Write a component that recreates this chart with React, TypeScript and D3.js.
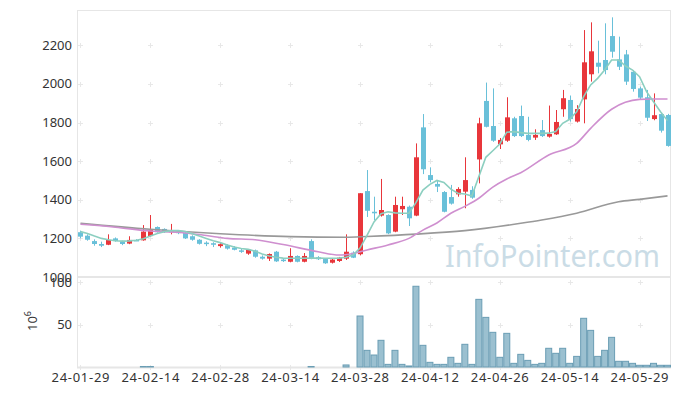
import React, { useEffect, useRef } from "react";
import * as d3 from "d3";

// trading days shown on the chart
const dates = [
  "24-01-29", "24-01-30", "24-01-31", "24-02-01", "24-02-02", "24-02-05", "24-02-06", "24-02-07", "24-02-08", "24-02-13",
  "24-02-14", "24-02-15", "24-02-16", "24-02-19", "24-02-20", "24-02-21", "24-02-22", "24-02-23", "24-02-26", "24-02-27",
  "24-02-28", "24-02-29", "24-03-04", "24-03-05", "24-03-06", "24-03-07", "24-03-08", "24-03-11", "24-03-12", "24-03-13",
  "24-03-14", "24-03-15", "24-03-18", "24-03-19", "24-03-20", "24-03-21", "24-03-22", "24-03-25", "24-03-26", "24-03-27",
  "24-03-28", "24-03-29", "24-04-01", "24-04-02", "24-04-03", "24-04-04", "24-04-05", "24-04-08", "24-04-09", "24-04-11",
  "24-04-12", "24-04-15", "24-04-16", "24-04-17", "24-04-18", "24-04-19", "24-04-22", "24-04-23", "24-04-24", "24-04-25",
  "24-04-26", "24-04-29", "24-04-30", "24-05-02", "24-05-03", "24-05-07", "24-05-08", "24-05-09", "24-05-10", "24-05-13",
  "24-05-14", "24-05-16", "24-05-17", "24-05-20", "24-05-21", "24-05-22", "24-05-23", "24-05-24", "24-05-27", "24-05-28",
  "24-05-29", "24-05-30", "24-05-31", "24-06-03", "24-06-04",
];

const opens = [
  1232, 1214, 1186, 1171, 1167, 1200, 1183, 1173, 1192, 1190,
  1212, 1259, 1249, 1232, 1237, 1228, 1211, 1193, 1178, 1175,
  1160, 1164, 1152, 1138, 1121, 1138, 1105, 1095, 1131, 1090,
  1079, 1109, 1079, 1186, 1102, 1093, 1074, 1083, 1095, 1126,
  1118, 1445, 1338, 1318, 1321, 1235, 1351, 1364, 1318, 1775,
  1528, 1482, 1440, 1414, 1428, 1442, 1451, 1609, 1912, 1782,
  1687, 1706, 1822, 1834, 1736, 1722, 1761, 1727, 1739, 1869,
  1917, 1805, 1920, 2050, 2110, 2124, 2248, 2127, 2153, 2063,
  1977, 1931, 1818, 1844, 1839,
];
const highs = [
  1240, 1221, 1195, 1183, 1221, 1205, 1188, 1211, 1196, 1269,
  1321, 1262, 1252, 1275, 1242, 1232, 1216, 1196, 1185, 1180,
  1175, 1170, 1160, 1150, 1145, 1142, 1112, 1122, 1135, 1095,
  1149, 1112, 1124, 1195, 1108, 1096, 1094, 1104, 1221, 1133,
  1434, 1554, 1416, 1508, 1325, 1416, 1416, 1370, 1692, 1844,
  1568, 1500, 1445, 1477, 1465, 1620, 1470, 1825, 2007, 1977,
  1720, 1931, 1830, 1888, 1830, 1765, 1813, 1888, 1865, 1969,
  1940, 1890, 2279, 2319, 2224, 2314, 2345, 2245, 2176, 2070,
  1986, 1969, 1951, 1850, 1845,
];
const lows = [
  1200, 1188, 1162, 1155, 1165, 1183, 1165, 1170, 1186, 1188,
  1210, 1230, 1228, 1221, 1222, 1197, 1188, 1168, 1160, 1155,
  1152, 1142, 1138, 1125, 1115, 1100, 1090, 1083, 1078, 1078,
  1076, 1076, 1076, 1092, 1088, 1068, 1070, 1078, 1088, 1098,
  1112, 1311, 1295, 1313, 1222, 1232, 1321, 1264, 1315, 1533,
  1490, 1440, 1335, 1375, 1416, 1356, 1405, 1485, 1775, 1700,
  1663, 1700, 1725, 1725, 1703, 1710, 1725, 1722, 1736, 1830,
  1805, 1800, 1796, 2012, 2055, 2050, 2136, 2072, 1995, 1960,
  1917, 1808, 1812, 1748, 1675,
];
const closes = [
  1209, 1193, 1171, 1162, 1192, 1186, 1171, 1192, 1189, 1235,
  1243, 1232, 1235, 1242, 1227, 1200, 1193, 1172, 1171, 1167,
  1170, 1147, 1141, 1131, 1141, 1105, 1095, 1119, 1081, 1084,
  1109, 1079, 1109, 1095, 1092, 1071, 1090, 1100, 1131, 1100,
  1434, 1343, 1330, 1347, 1226, 1373, 1368, 1304, 1620, 1558,
  1502, 1468, 1338, 1380, 1456, 1502, 1411, 1796, 1778, 1706,
  1710, 1827, 1730, 1730, 1710, 1736, 1730, 1741, 1803, 1926,
  1818, 1870, 2112, 2169, 2089, 2072, 2167, 2089, 2012, 1974,
  1929, 1825, 1838, 1758, 1679,
];

// volume in millions (0 = too small to see)
const volumes = [
  0, 0, 0, 0, 0, 0, 0, 0, 0, 0.6,
  0.6, 0, 0, 0, 0, 0, 0, 0, 0, 0,
  0, 0, 0, 0, 0, 0, 0, 0, 0, 0,
  0, 0, 0, 0.6, 0, 0, 0, 0, 2.4, 0,
  60, 19.6, 14.1, 31.4, 3.1, 19.6, 3.1, 1.2, 95, 25.5,
  5.5, 3.1, 3.1, 11.4, 4.3, 26.7, 3.1, 79.6, 58.4, 40.8,
  11.4, 39.6, 4.3, 14.9, 7.8, 3.1, 4.3, 22, 16.1, 22,
  4.3, 12.5, 57.3, 43.1, 12.5, 19.6, 34.9, 6.7, 6.7, 4.3,
  2, 2, 4.3, 2, 2,
];

// moving averages
const ma5 = [
  1235, 1225, 1212, 1200, 1193, 1188, 1186, 1187, 1190, 1198,
  1212, 1225, 1235, 1240, 1240, 1236, 1224, 1212, 1200, 1188,
  1178, 1166, 1155, 1148, 1143, 1133, 1119, 1109, 1102, 1098,
  1097, 1097, 1097, 1098, 1098, 1097, 1097, 1098, 1102, 1114,
  1150, 1215, 1285, 1328, 1338, 1332, 1330, 1330, 1385, 1450,
  1480, 1500, 1490, 1455, 1434, 1430, 1420, 1520, 1620, 1654,
  1689, 1750, 1753, 1748, 1744, 1744, 1744, 1745, 1753, 1796,
  1817, 1856, 1934, 1995, 2029, 2072, 2124, 2124, 2093, 2072,
  2038, 1960, 1908, 1856, 1810,
];
const ma20: [number, number][] = [
  [0, 1273], [5, 1258], [10, 1238], [14, 1232], [18, 1215], [21, 1200], [25, 1193],
  [29, 1168], [34, 1131], [37, 1114], [39, 1122], [41, 1140], [44, 1166], [47, 1200],
  [49, 1243], [51, 1280], [53, 1330], [55, 1366], [57, 1408], [59, 1466], [61, 1508],
  [63, 1540], [67, 1632], [71, 1692], [73, 1770], [76, 1869], [80, 1920], [82, 1922],
  [84, 1922],
];
const ma60: [number, number][] = [
  [0, 1278], [10, 1247], [20, 1224], [30, 1209], [38, 1206], [41, 1210], [48, 1222],
  [55, 1240], [63, 1278], [66, 1295], [71, 1330], [77, 1390], [80, 1402], [84, 1420],
];

const priceTicks = [1000, 1200, 1400, 1600, 1800, 2000, 2200];
const volumeTicks = [0, 50, 100];
const dateTickStep = 10;

const App: React.FC = () => {
  const svgRef = useRef<SVGSVGElement>(null);

  useEffect(() => {
    const svg = d3.select(svgRef.current);
    svg.selectAll("*").remove();

    const left = 77;
    const right = 671;
    const top = 10;
    const mid = 277;
    const bottom = 367;
    const font = "'Noto Sans', 'Open Sans', sans-serif";

    const x = d3.scaleBand<string>().domain(dates).range([left, right]).padding(0);
    const cx = (i: number) => x(dates[i])! + x.bandwidth() / 2;
    const yPrice = d3.scaleLinear().domain([1000, 2383]).range([mid, top]);
    const yVol = d3.scaleLinear().domain([0, 105.9]).range([bottom, mid]);

    svg.append("rect").attr("width", 680).attr("height", 396).attr("fill", "#fff");

    const tickIdx = d3.range(0, dates.length, dateTickStep);

    // grid: small crosses at tick intersections
    const grid = svg.append("g").attr("stroke", "#e8e8e8").attr("stroke-width", 1);
    const rows = [
      ...priceTicks.filter((t) => t > 1000).map((t) => yPrice(t)),
      ...volumeTicks.map((t) => yVol(t)),
    ];
    tickIdx.forEach((i) => {
      rows.forEach((yy) => {
        const px = Math.round(cx(i)) + 0.5;
        const py = Math.round(yy) + 0.5;
        grid.append("line").attr("x1", px - 2.5).attr("x2", px + 2.5).attr("y1", py).attr("y2", py);
        grid.append("line").attr("x1", px).attr("x2", px).attr("y1", py - 2.5).attr("y2", py + 2.5);
      });
    });

    // frame
    const frame = svg.append("g").attr("stroke", "#e6e6e6").attr("fill", "none");
    frame.append("line").attr("x1", left).attr("x2", right).attr("y1", top + 0.5).attr("y2", top + 0.5);
    frame.append("line").attr("x1", left + 0.5).attr("x2", left + 0.5).attr("y1", top).attr("y2", bottom);
    frame.append("line").attr("x1", right - 0.5).attr("x2", right - 0.5).attr("y1", top).attr("y2", bottom);
    frame.append("line").attr("x1", left).attr("x2", right).attr("y1", mid).attr("y2", mid).attr("stroke-width", 2);
    frame.append("line").attr("x1", left).attr("x2", right).attr("y1", bottom + 0.5).attr("y2", bottom + 0.5).attr("stroke-width", 2);

    // watermark
    svg
      .append("text")
      .attr("x", 445)
      .attr("y", 267)
      .attr("textLength", 215)
      .attr("lengthAdjust", "spacingAndGlyphs")
      .style("font-family", font)
      .style("font-size", "31px")
      .style("fill", "#cadce6")
      .text("InfoPointer.com");

    // volume bars
    svg
      .append("g")
      .selectAll("rect")
      .data(volumes.map((v, i) => ({ v, i })).filter((d) => d.v > 0))
      .join("rect")
      .attr("x", (d) => x(dates[d.i])! + 0.5)
      .attr("width", x.bandwidth() - 1)
      .attr("y", (d) => yVol(d.v))
      .attr("height", (d) => yVol(0) - yVol(d.v))
      .attr("fill", "#9bc0d0")
      .attr("stroke", "#6a9db4")
      .attr("stroke-width", 1);

    // candles
    const up = "#e8363b";
    const down = "#69c0d9";
    const candles = svg
      .append("g")
      .selectAll("g")
      .data(d3.range(dates.length))
      .join("g");
    candles
      .append("line")
      .attr("x1", (i) => Math.round(cx(i)) + 0.5)
      .attr("x2", (i) => Math.round(cx(i)) + 0.5)
      .attr("y1", (i) => yPrice(highs[i]))
      .attr("y2", (i) => yPrice(lows[i]))
      .attr("stroke", (i) => (closes[i] >= opens[i] ? up : down))
      .attr("stroke-width", 1);
    candles
      .append("rect")
      .attr("x", (i) => Math.round(cx(i)) + 0.5 - 2.5)
      .attr("width", 5)
      .attr("y", (i) => yPrice(Math.max(opens[i], closes[i])))
      .attr("height", (i) => Math.max(1.5, Math.abs(yPrice(opens[i]) - yPrice(closes[i]))))
      .attr("fill", (i) => (closes[i] >= opens[i] ? up : down));

    // moving averages
    const smooth = d3
      .line<[number, number]>()
      .x((d) => cx(d[0]))
      .y((d) => yPrice(d[1]))
      .curve(d3.curveMonotoneX);
    const straight = d3
      .line<[number, number]>()
      .x((d) => cx(d[0]))
      .y((d) => yPrice(d[1]));
    svg
      .append("path")
      .datum(ma60)
      .attr("fill", "none")
      .attr("stroke", "#999")
      .attr("stroke-width", 1.6)
      .attr("d", smooth);
    svg
      .append("path")
      .datum(ma20)
      .attr("fill", "none")
      .attr("stroke", "#cf8fcf")
      .attr("stroke-width", 1.6)
      .attr("d", smooth);
    svg
      .append("path")
      .datum(ma5.map((v, i) => [i, v] as [number, number]))
      .attr("fill", "none")
      .attr("stroke", "#8ccfc0")
      .attr("stroke-width", 1.6)
      .attr("d", straight);

    // axis labels
    const labels = svg.append("g").style("font-family", font).style("font-size", "13px").style("fill", "#333");
    priceTicks.forEach((t) => {
      labels
        .append("text")
        .attr("x", 72)
        .attr("y", yPrice(t))
        .attr("dy", "0.35em")
        .attr("text-anchor", "end")
        .text(t);
    });
    volumeTicks
      .filter((t) => t > 0)
      .forEach((t) => {
        labels
          .append("text")
          .attr("x", 72)
          .attr("y", yVol(t))
          .attr("dy", "0.35em")
          .attr("text-anchor", "end")
          .text(t);
      });
    tickIdx.forEach((i) => {
      labels
        .append("text")
        .attr("x", cx(i))
        .attr("y", 382)
        .attr("text-anchor", "middle")
        .attr("textLength", 58)
        .attr("lengthAdjust", "spacing")
        .text(dates[i]);
    });

    // volume unit
    const unit = labels
      .append("text")
      .attr("transform", "translate(37,321) rotate(-90)")
      .attr("text-anchor", "middle");
    unit.append("tspan").text("10");
    unit.append("tspan").attr("dy", "-6").style("font-size", "9px").text("6");
  }, []);

  return <svg ref={svgRef} width={680} height={396} style={{ position: "absolute", left: 0, top: 0 }} />;
};

export default App;
